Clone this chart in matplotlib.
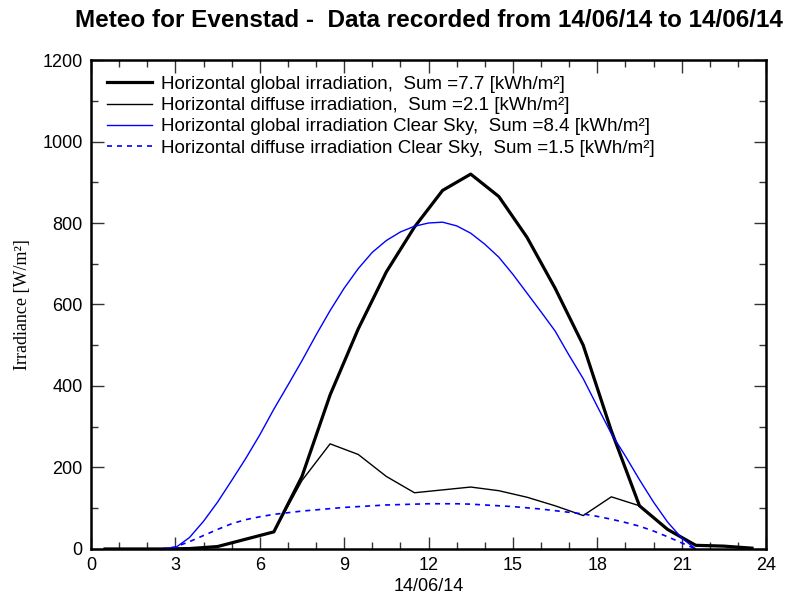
import numpy as np
import matplotlib
matplotlib.use("Agg")
import matplotlib.pyplot as plt
from matplotlib.ticker import MultipleLocator

# measured hourly values (centre of hour)
hours = [0.5, 1.5, 2.5, 3.5, 4.5, 5.5, 6.5, 7.5, 8.5, 9.5, 10.5, 11.5,
         12.5, 13.5, 14.5, 15.5, 16.5, 17.5, 18.5, 19.5, 20.5, 21.5, 22.5, 23.5]
global_irr = [0, 0, 0, 1, 6, 24, 42, 178, 378, 540, 680, 790,
              880, 920, 865, 765, 640, 500, 290, 106, 48, 9, 7, 2]
diffuse_irr = [0, 0, 0, 1, 6, 24, 42, 168, 258, 232, 178, 138,
               145, 152, 143, 127, 106, 82, 128, 106, 48, 9, 7, 2]

# clear sky model, half-hour steps
cs_hours = [2.5, 3.0, 3.5, 4.0, 4.5, 5.0, 5.5, 6.0, 6.5, 7.0, 7.5, 8.0, 8.5,
            9.0, 9.5, 10.0, 10.5, 11.0, 11.5, 12.0, 12.5, 13.0, 13.5, 14.0,
            14.5, 15.0, 15.5, 16.0, 16.5, 17.0, 17.5, 18.0, 18.5, 19.0, 19.5,
            20.0, 20.5, 21.0, 21.5]
cs_global = [0, 3, 28, 68, 115, 168, 222, 280, 343, 402, 462, 525, 585,
             640, 688, 728, 757, 778, 792, 800, 802, 793, 775, 748,
             716, 674, 628, 582, 535, 475, 418, 350, 283, 228, 170,
             115, 66, 27, 0]
cs_diffuse = [0, 5, 18, 33, 48, 62, 72, 79, 85, 89, 93, 96, 99,
              102, 104, 106, 108, 109, 110, 111, 111, 111, 110, 108,
              106, 104, 101, 98, 94, 90, 86, 80, 73, 65, 56,
              44, 30, 15, 0]

sums = [7.7, 2.1, 8.4, 1.5]
day = "14/06/14"

plt.rcParams["font.family"] = "Liberation Sans"

fig = plt.figure(figsize=(7.86, 5.96), dpi=100)
ax = fig.add_axes([0.1158, 0.0789, 0.8588, 0.8204])

ax.plot(hours, global_irr, color="black", lw=2.3,
        label=f"Horizontal global irradiation,  Sum ={sums[0]} [kWh/m²]")
ax.plot(hours, diffuse_irr, color="black", lw=1.0,
        label=f"Horizontal diffuse irradiation,  Sum ={sums[1]} [kWh/m²]")
ax.plot(cs_hours, cs_global, color="#0000ff", lw=1.0,
        label=f"Horizontal global irradiation Clear Sky,  Sum ={sums[2]} [kWh/m²]")
ax.plot(cs_hours, cs_diffuse, color="#0000ff", lw=1.2, dashes=(3, 3),
        label=f"Horizontal diffuse irradiation Clear Sky,  Sum ={sums[3]} [kWh/m²]")

ax.set_xlim(0, 24)
ax.set_ylim(0, 1200)
ax.xaxis.set_major_locator(MultipleLocator(3))
ax.xaxis.set_minor_locator(MultipleLocator(1))
ax.yaxis.set_major_locator(MultipleLocator(200))
ax.yaxis.set_minor_locator(MultipleLocator(100))
ax.tick_params(which="both", direction="in", top=True, right=True,
               labelsize=13, color="#333333", width=1)
ax.tick_params(which="major", length=9, pad=6)
ax.tick_params(which="minor", length=5)

for side in ax.spines:
    ax.spines[side].set_linewidth(1.8)

ax.set_xlabel(day, fontsize=13, labelpad=3)
ax.set_ylabel("Irradiance [W/m²]", fontsize=13, family="Liberation Serif", labelpad=8)

ax.legend(loc="upper left", frameon=False, fontsize=13.5, handlelength=2.4,
          handletextpad=0.5, labelspacing=0.22, borderaxespad=0.0,
          bbox_to_anchor=(0.012, 0.983))

ax.set_title(f"Meteo for Evenstad -  Data recorded from {day} to {day}",
             fontsize=17.5, fontweight="bold", pad=24)

fig.savefig("out.png", dpi=100)
